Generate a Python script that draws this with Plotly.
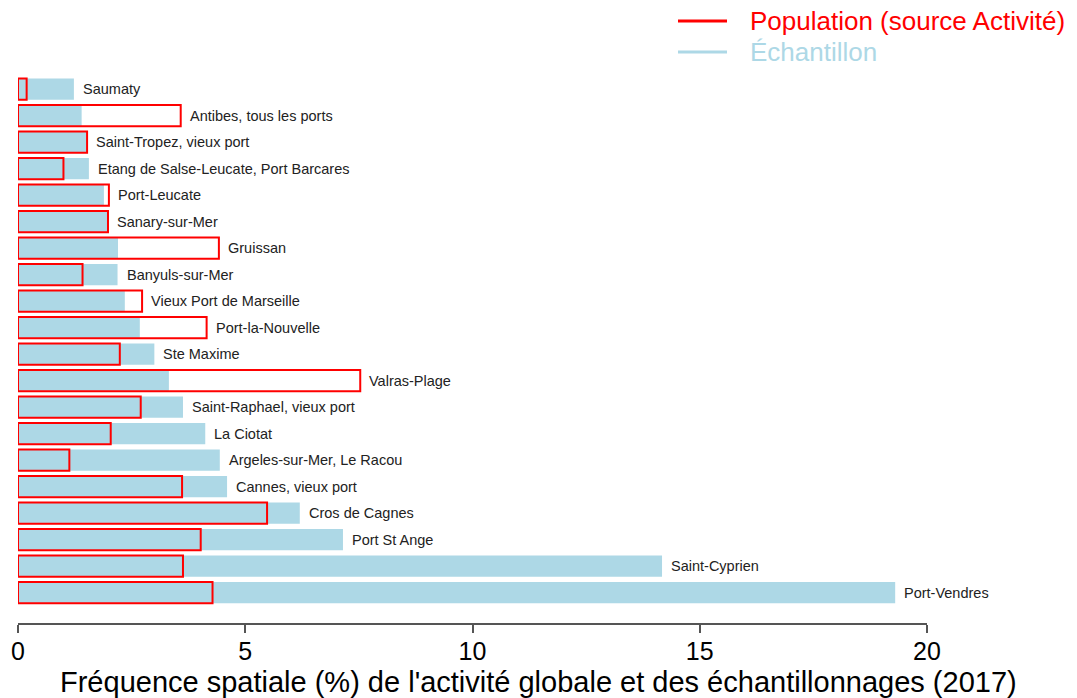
import plotly.graph_objects as go

ports = ["Saumaty", "Antibes, tous les ports", "Saint-Tropez, vieux port",
         "Etang de Salse-Leucate, Port Barcares", "Port-Leucate", "Sanary-sur-Mer",
         "Gruissan", "Banyuls-sur-Mer", "Vieux Port de Marseille", "Port-la-Nouvelle",
         "Ste Maxime", "Valras-Plage", "Saint-Raphael, vieux port", "La Ciotat",
         "Argeles-sur-Mer, Le Racou", "Cannes, vieux port", "Cros de Cagnes",
         "Port St Ange", "Saint-Cyprien", "Port-Vendres"]
echantillon = [1.23, 1.40, 1.51, 1.56, 1.89, 1.96, 2.20, 2.19, 2.35, 2.68,
               3.00, 3.32, 3.63, 4.12, 4.44, 4.60, 6.20, 7.15, 14.17, 19.30]
population = [0.19, 3.58, 1.52, 1.00, 2.00, 1.98, 4.42, 1.42, 2.73, 4.15,
              2.24, 7.53, 2.70, 2.04, 1.13, 3.61, 5.48, 4.02, 3.63, 4.28]
legend_names = ["Population (source Activité)", "Échantillon"]
x_title = "Fréquence spatiale (%) de l'activité globale et des échantillonnages (2017)"

RED = "#FF0000"
BLUE = "#ADD8E6"
FONT = "Liberation Sans, Arial"

# page body has an 8px margin; figure sized to fit the window
OFF = 8
W, H = 1077 - OFF, 698 - OFF
L, R, T, B = 18 - OFF, 150, 75 - OFF, 75
PW, PH = W - L - R, H - T - B


def px_to_paper_x(wx):
    return (wx - OFF - L) / PW


def px_to_paper_y(wy):
    return 1 - (wy - OFF - T) / PH


fig = go.Figure()
fig.add_trace(go.Bar(y=ports, x=echantillon, orientation="h", width=0.8,
                     marker=dict(color=BLUE, line=dict(width=0)),
                     showlegend=False, hoverinfo="x+y"))
fig.add_trace(go.Bar(y=ports, x=population, orientation="h", width=0.8,
                     marker=dict(color="rgba(0,0,0,0)", line=dict(color=RED, width=2)),
                     showlegend=False, hoverinfo="x+y"))

for p, e, q in zip(ports, echantillon, population):
    fig.add_annotation(x=max(e, q), y=p, text=p, xanchor="left", yanchor="middle",
                       xshift=7, showarrow=False,
                       font=dict(family=FONT, size=14.5, color="#222222"))

# manual legend
for name, col, wy in zip(legend_names, [RED, BLUE], [21, 52]):
    yy = px_to_paper_y(wy)
    fig.add_shape(type="line", xref="paper", yref="paper",
                  x0=px_to_paper_x(678), x1=px_to_paper_x(727), y0=yy, y1=yy,
                  line=dict(color=col, width=3))
    fig.add_annotation(xref="paper", yref="paper", x=px_to_paper_x(748), y=yy, text=name,
                       xanchor="left", yanchor="middle", showarrow=False,
                       font=dict(family=FONT, size=26, color=col))

# x-axis title centred on the page
fig.add_annotation(xref="paper", yref="paper", x=px_to_paper_x(538), y=px_to_paper_y(682),
                   text=x_title, xanchor="center", yanchor="middle", showarrow=False,
                   font=dict(family=FONT, size=29, color="black"))

fig.update_layout(
    width=W, height=H,
    barmode="overlay",
    plot_bgcolor="white", paper_bgcolor="white",
    margin=dict(l=L, r=R, t=T, b=B, autoexpand=False),
    font=dict(family=FONT, color="black"),
    xaxis=dict(range=[0, 20], tickvals=[0, 5, 10, 15, 20], showgrid=False, zeroline=False,
               automargin=False,
               showline=True, linecolor="#555555", linewidth=1.5,
               ticks="outside", ticklen=8, tickcolor="#555555", tickwidth=1.5,
               ticklabelstandoff=-3,
               tickfont=dict(size=25, color="black")),
    yaxis=dict(range=[20.15, -0.53], visible=False, showgrid=False, automargin=False),
    showlegend=False,
)

fig.write_html("out.html")
